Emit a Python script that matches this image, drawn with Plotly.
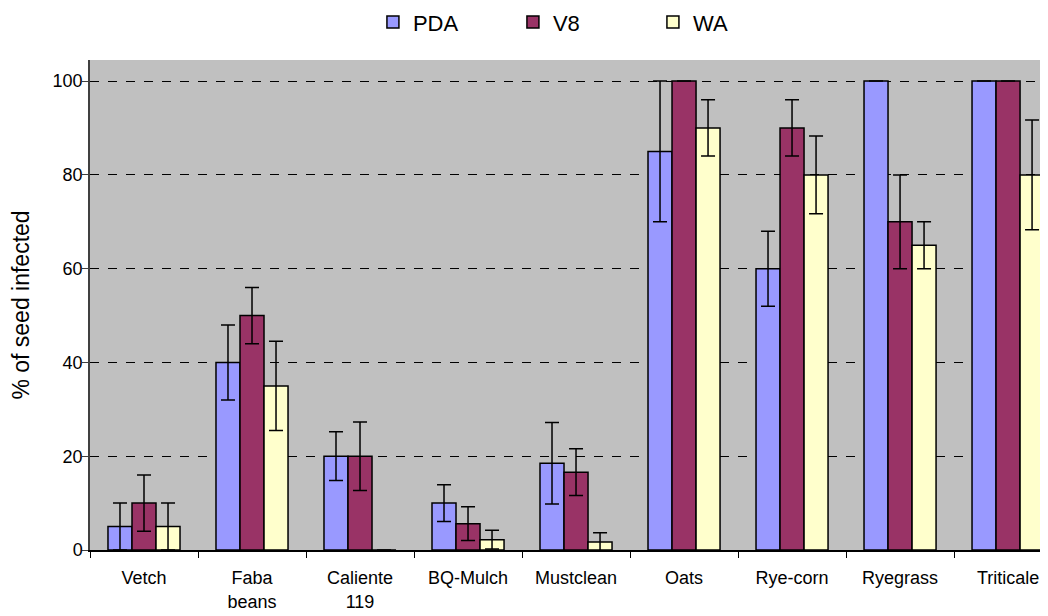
import plotly.graph_objects as go

categories = ["Vetch", "Faba<br>beans", "Caliente<br>119", "BQ-Mulch", "Mustclean",
              "Oats", "Rye-corn", "Ryegrass", "Triticale"]
pda = [5, 40, 20, 10, 18.5, 85, 60, 100, 100]
pda_err = [5, 8, 5.2, 3.9, 8.7, 15, 8, 0, 0]
v8 = [10, 50, 20, 5.6, 16.6, 100, 90, 70, 100]
v8_err = [6, 6, 7.3, 3.6, 5, 0, 6, 10, 0]
wa = [5, 35, 0, 2.2, 1.7, 90, 80, 65, 80]
wa_err = [5, 9.5, 0, 2, 2, 6, 8.3, 5, 11.7]

series = [("PDA", pda, pda_err, "#9999FF"),
          ("V8", v8, v8_err, "#993366"),
          ("WA", wa, wa_err, "#FFFFCC")]

font = "Liberation Sans, Arial, sans-serif"
fig = go.Figure()
for name, vals, errs, col in series:
    fig.add_trace(go.Bar(
        name=name, x=categories, y=vals,
        marker=dict(color=col, line=dict(color="black", width=1.5)),
        error_y=dict(type="data", array=errs, visible=True, color="black",
                     thickness=1.5, width=7),
    ))

fig.update_layout(
    width=1048, height=616,
    margin=dict(l=82, r=0, t=52, b=74, autoexpand=False),
    paper_bgcolor="white", plot_bgcolor="#C0C0C0",
    barmode="group", bargap=0.333, bargroupgap=0,
    font=dict(family=font, color="black"),
    legend=dict(orientation="h", xref="container", x=0.5486, xanchor="center",
                yref="container", y=0.977, yanchor="middle",
                font=dict(size=22, family=font),
                entrywidth=95, entrywidthmode="pixels",
                bgcolor="rgba(0,0,0,0)"),
    showlegend=True,
)
fig.update_xaxes(
    range=[-0.5, 8.444], showline=True, linecolor="black", linewidth=1.5,
    ticks="outside", tickson="boundaries", ticklen=6, tickcolor="black",
    tickfont=dict(size=18), showgrid=False, tickangle=0, automargin=False,
    ticklabelstandoff=11,
)
fig.update_yaxes(
    range=[0, 104.5], tickvals=[0, 20, 40, 60, 80, 100],
    showline=True, linecolor="#404040", linewidth=1.5,
    ticks="outside", ticklen=6, tickcolor="#404040",
    tickfont=dict(size=18), automargin=False, ticklabelstandoff=-4,
    showgrid=True, gridcolor="black", griddash="dash", gridwidth=1,
    zeroline=False,
    title=dict(text="% of seed infected", font=dict(size=23), standoff=25),
)
fig.write_html("out.html")
